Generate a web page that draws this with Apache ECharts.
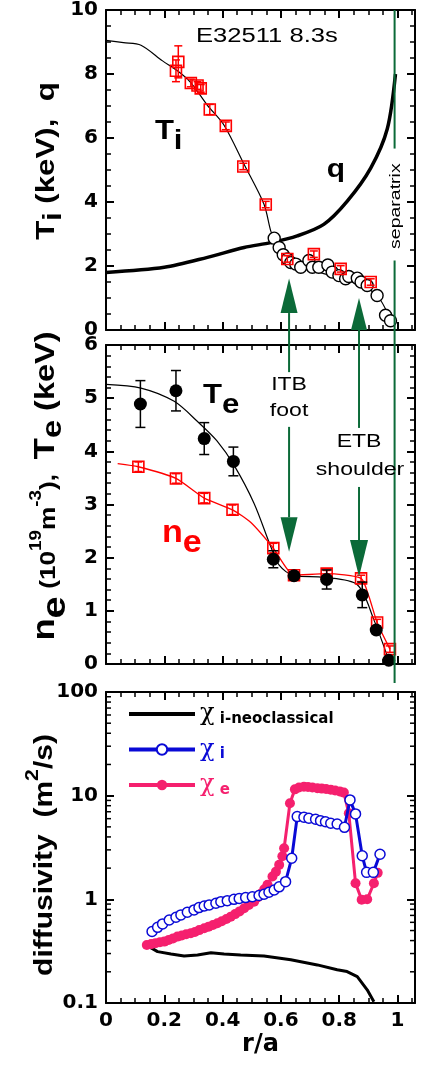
<!DOCTYPE html>
<html><head><meta charset="utf-8">
<script src="https://cdn.jsdelivr.net/npm/echarts@6/dist/echarts.min.js"></script>
<style>html,body{margin:0;padding:0;background:#fff}#c{width:426px;height:1068px}</style>
</head><body><div id="c"></div>
<script>
// ---------- Panel 1: Ti, q ----------
const tiFitX = [0, 0.06, 0.12, 0.194, 0.245, 0.29, 0.348, 0.405, 0.474, 0.542, 0.565, 0.577, 0.608, 0.634, 0.70, 0.747, 0.80, 0.862, 0.90, 0.942, 0.976];
const tiFitY = [9.05, 8.98, 8.9, 8.41, 8.1, 7.74, 7.02, 6.4, 5.17, 3.93, 3.1, 2.87, 2.35, 2.07, 1.9, 1.76, 1.65, 1.44, 1.3, 0.93, 0.31];
const tiX = [0.240, 0.248, 0.291, 0.314, 0.325, 0.356, 0.411, 0.471, 0.548, 0.622, 0.713, 0.805, 0.908];
const tiY = [8.10, 8.38, 7.72, 7.64, 7.55, 6.89, 6.38, 5.11, 3.92, 2.22, 2.37, 1.91, 1.50];
const tiErr = [0.34, 0.50, 0.12, 0.12, 0.12, 0.16, 0.12, 0.10, 0.10, 0.10, 0.10, 0.10, 0.10];
const cxX = [0.577, 0.594, 0.608, 0.622, 0.634, 0.651, 0.668, 0.696, 0.708, 0.730, 0.761, 0.776, 0.799, 0.822, 0.833, 0.862, 0.875, 0.896, 0.930, 0.959, 0.976];
const cxY = [2.87, 2.58, 2.35, 2.22, 2.11, 2.06, 1.96, 2.17, 1.96, 1.96, 2.03, 1.81, 1.70, 1.60, 1.67, 1.62, 1.50, 1.39, 1.08, 0.46, 0.29];
const qX = [0, 0.2, 0.348, 0.474, 0.565, 0.656, 0.747, 0.827, 0.908, 0.965, 0.993];
const qY = [1.80, 1.96, 2.27, 2.58, 2.73, 2.94, 3.30, 4.02, 5.06, 6.29, 8.0];

// ---------- Panel 2: Te, ne ----------
const teX = [0.118, 0.240, 0.337, 0.437, 0.574, 0.645, 0.757, 0.879, 0.927, 0.970];
const teY = [4.89, 5.14, 4.24, 3.81, 1.97, 1.66, 1.59, 1.30, 0.64, 0.07];
const teErr = [0.44, 0.38, 0.30, 0.27, 0.16, 0.06, 0.18, 0.24, 0.05, 0.03];
const teFitX = [0, 0.12, 0.234, 0.314, 0.38, 0.439, 0.508, 0.565, 0.594, 0.645, 0.748, 0.862, 0.919, 0.970];
const teFitY = [5.26, 5.19, 4.94, 4.56, 4.2, 3.74, 3.02, 2.21, 1.86, 1.66, 1.63, 1.49, 0.83, 0.07];
const neX = [0.111, 0.240, 0.337, 0.434, 0.574, 0.645, 0.757, 0.875, 0.930, 0.974];
const neY = [3.71, 3.49, 3.12, 2.90, 2.18, 1.67, 1.70, 1.61, 0.78, 0.28];
const neErr = [0.09, 0.09, 0.09, 0.09, 0.09, 0.06, 0.06, 0.06, 0.06, 0.06];
const neLineX = [0.04, 0.111, 0.240, 0.337, 0.434, 0.497, 0.574, 0.645, 0.757, 0.875, 0.902, 0.930, 0.974];
const neLineY = [3.77, 3.71, 3.49, 3.12, 2.90, 2.66, 2.18, 1.67, 1.70, 1.61, 1.27, 0.78, 0.28];

// ---------- Panel 3: diffusivities ----------
const neoX = [0.137, 0.177, 0.223, 0.268, 0.314, 0.360, 0.405, 0.462, 0.542, 0.634, 0.725, 0.793, 0.827, 0.862, 0.896, 0.919];
const neoY = [0.363, 0.313, 0.297, 0.284, 0.291, 0.306, 0.297, 0.291, 0.284, 0.261, 0.233, 0.209, 0.201, 0.180, 0.134, 0.103];
const chiIX = [0.158, 0.177, 0.194, 0.217, 0.240, 0.257, 0.279, 0.302, 0.319, 0.337, 0.354, 0.377, 0.394, 0.416, 0.439, 0.457, 0.479, 0.502, 0.525, 0.542, 0.559, 0.577, 0.594, 0.616, 0.637, 0.656, 0.679, 0.696, 0.719, 0.736, 0.753, 0.771, 0.793, 0.818, 0.837, 0.856, 0.879, 0.894, 0.917, 0.940];
const chiIY = [0.489, 0.537, 0.579, 0.632, 0.671, 0.708, 0.751, 0.791, 0.832, 0.863, 0.883, 0.916, 0.950, 0.971, 1.00, 1.02, 1.04, 1.06, 1.09, 1.12, 1.17, 1.23, 1.32, 1.48, 2.49, 6.28, 6.20, 6.05, 5.92, 5.74, 5.61, 5.42, 5.33, 4.95, 9.10, 6.67, 2.63, 1.82, 1.82, 2.72];
const chiEX = [0.140, 0.155, 0.170, 0.185, 0.200, 0.215, 0.230, 0.245, 0.260, 0.275, 0.291, 0.305, 0.320, 0.337, 0.352, 0.367, 0.382, 0.397, 0.413, 0.428, 0.443, 0.458, 0.474, 0.490, 0.508, 0.520, 0.531, 0.543, 0.554, 0.571, 0.583, 0.594, 0.605, 0.611, 0.631, 0.648, 0.662, 0.679, 0.693, 0.708, 0.725, 0.740, 0.755, 0.771, 0.786, 0.802, 0.816, 0.833, 0.856, 0.877, 0.896, 0.919, 0.932];
const chiEY = [0.363, 0.370, 0.378, 0.385, 0.391, 0.405, 0.420, 0.437, 0.447, 0.460, 0.471, 0.485, 0.505, 0.526, 0.545, 0.565, 0.588, 0.615, 0.645, 0.681, 0.720, 0.765, 0.820, 0.880, 0.950, 1.04, 1.13, 1.25, 1.38, 1.66, 1.85, 2.15, 2.60, 3.11, 8.45, 11.5, 12.0, 12.2, 12.1, 12.0, 11.8, 11.7, 11.6, 11.4, 11.2, 11.0, 10.7, 6.76, 1.43, 0.99, 1.00, 1.43, 1.80];

// ---------- Annotation positions (data units) ----------
const itbX = 0.628, etbX = 0.868, sepX = 0.99;

const zip = (xs, ys) => xs.map((x, i) => [x, ys[i]]);
const errRows = (xs, ys, es) => xs.map((x, i) => [x, ys[i], ys[i] - es[i], ys[i] + es[i]]);

const BLACK = '#000', RED = '#ff0000', BLUE = '#0a0ad6', PINK = '#f5206e', GREEN = '#0b6a38';
const TICKFONT = {fontFamily: 'DejaVu Sans', fontWeight: 'bold', fontSize: 20, color: '#000'};

function xAx(gi, pos, showLabel) {
  return {
    type: 'value', gridIndex: gi, position: pos, min: 0, max: 1.06, interval: 0.2,
    axisLine: {onZero: false, lineStyle: {color: BLACK, width: 2}},
    axisTick: {inside: true, length: 8, lineStyle: {color: BLACK, width: 2}},
    minorTick: {show: true, splitNumber: 4, length: 5, lineStyle: {color: BLACK, width: 1.5}},
    splitLine: {show: false},
    axisLabel: Object.assign({show: showLabel, showMaxLabel: false, margin: 8,
      formatter: v => (v === 0 || v === 1) ? String(v) : v.toFixed(1)}, TICKFONT),
    name: showLabel && pos === 'bottom' ? 'r/a' : '',
    nameLocation: 'middle', nameGap: 30,
    nameTextStyle: {fontFamily: 'DejaVu Sans', fontWeight: 'bold', fontSize: 24, color: '#000'}
  };
}
function yLin(gi, pos, showLabel, max, interval, split) {
  return {
    type: 'value', gridIndex: gi, position: pos, min: 0, max: max, interval: interval,
    axisLine: {show: true, onZero: false, lineStyle: {color: BLACK, width: 2}},
    axisTick: {show: true, inside: true, length: 8, lineStyle: {color: BLACK, width: 2}},
    minorTick: {show: true, splitNumber: split, length: 5, lineStyle: {color: BLACK, width: 1.5}},
    splitLine: {show: false},
    axisLabel: Object.assign({show: showLabel, margin: 8}, TICKFONT)
  };
}
function yLog(gi, pos, showLabel) {
  return {
    type: 'log', logBase: 10, gridIndex: gi, position: pos, min: 0.1, max: 100, splitNumber: 3,
    axisLine: {show: true, onZero: false, lineStyle: {color: BLACK, width: 2}},
    axisTick: {show: true, inside: true, length: 8, lineStyle: {color: BLACK, width: 2}},
    splitLine: {show: false},
    axisLabel: Object.assign({show: showLabel, margin: 8,
      formatter: v => v < 1 ? '0.1' : String(Math.round(v))}, TICKFONT)
  };
}
function errSeries(xi, yi, rows, color, cap, z) {
  return {
    type: 'custom', xAxisIndex: xi, yAxisIndex: yi, data: rows, silent: true, z: z,
    encode: {x: 0, y: 1},
    renderItem: (p, api) => {
      const x = api.value(0);
      const a = api.coord([x, api.value(2)]), b = api.coord([x, api.value(3)]);
      const s = {stroke: color, lineWidth: 1.5, fill: null};
      return {type: 'group', children: [
        {type: 'line', shape: {x1: a[0], y1: a[1], x2: b[0], y2: b[1]}, style: s},
        {type: 'line', shape: {x1: a[0] - cap, y1: a[1], x2: a[0] + cap, y2: a[1]}, style: s},
        {type: 'line', shape: {x1: b[0] - cap, y1: b[1], x2: b[0] + cap, y2: b[1]}, style: s}
      ]};
    }
  };
}
// log-axis minor ticks at 2..9 x decade
const minorLog = [];
[0.1, 1, 10].forEach(d => { for (let k = 2; k <= 9; k++) minorLog.push([0, +(k * d).toPrecision(3)]); });

const option = {
  animation: false,
  backgroundColor: '#fff',
  grid: [
    {left: 106, top: 7, width: 309, height: 323},
    {left: 106, top: 345, width: 309, height: 319},
    {left: 106, top: 692, width: 309, height: 311}
  ],
  xAxis: [xAx(0, 'bottom', false), xAx(1, 'bottom', false), xAx(2, 'bottom', true),
          xAx(0, 'top', false), xAx(1, 'top', false), xAx(2, 'top', false)],
  yAxis: [yLin(0, 'left', true, 10, 2, 4), yLin(1, 'left', true, 6, 1, 5), yLog(2, 'left', true),
          yLin(0, 'right', false, 10, 2, 4), yLin(1, 'right', false, 6, 1, 5), yLog(2, 'right', false)],
  legend: {
    left: 122, top: 697, orient: 'vertical', itemWidth: 66, itemHeight: 13, itemGap: 11,
    lineStyle: {width: 4},
    data: [{name: 'χ i-neoclassical', icon: 'path://M0,0H66V4H0Z'}, {name: 'χ i'}, {name: 'χ e'}],
    formatter: n => n === 'χ i-neoclassical' ? '{ck|χ}{sk| i-neoclassical}' : (n === 'χ i' ? '{cb|χ}{sb| i}' : '{cp|χ}{sp| e}'),
    textStyle: {rich: {
      ck: {fontFamily: 'DejaVu Serif', fontSize: 24, color: BLACK},
      cb: {fontFamily: 'DejaVu Serif', fontSize: 24, color: BLUE},
      cp: {fontFamily: 'DejaVu Serif', fontSize: 24, color: PINK},
      sk: {fontFamily: 'DejaVu Sans', fontWeight: 'bold', fontSize: 15, color: BLACK, padding: [10, 0, 0, 0]},
      sb: {fontFamily: 'DejaVu Sans', fontWeight: 'bold', fontSize: 15, color: BLUE, padding: [10, 0, 0, 0]},
      sp: {fontFamily: 'DejaVu Sans', fontWeight: 'bold', fontSize: 15, color: PINK, padding: [10, 0, 0, 0]}
    }}
  },
  series: [
    // panel 1
    {name: 'q', type: 'line', xAxisIndex: 0, yAxisIndex: 0, data: zip(qX, qY), smooth: 0.3,
     showSymbol: false, symbol: 'none', lineStyle: {color: BLACK, width: 3.5}, z: 2},
    {name: 'Ti fit', type: 'line', xAxisIndex: 0, yAxisIndex: 0, data: zip(tiFitX, tiFitY), smooth: 0.3,
     showSymbol: false, symbol: 'none', lineStyle: {color: BLACK, width: 1.2}, z: 3},
    {name: 'Ti CXRS', type: 'scatter', xAxisIndex: 0, yAxisIndex: 0, data: zip(cxX, cxY),
     symbol: 'circle', symbolSize: 12, itemStyle: {color: '#fff', borderColor: BLACK, borderWidth: 1.4, opacity: 1}, z: 4},
    errSeries(0, 0, errRows(tiX, tiY, tiErr), RED, 4, 5),
    {name: 'Ti', type: 'scatter', xAxisIndex: 0, yAxisIndex: 0, data: zip(tiX, tiY),
     symbol: 'rect', symbolSize: 11, itemStyle: {color: 'rgba(0,0,0,0)', borderColor: RED, borderWidth: 1.6, opacity: 1}, z: 5},
    // panel 2
    {name: 'Te fit', type: 'line', xAxisIndex: 1, yAxisIndex: 1, data: zip(teFitX, teFitY), smooth: 0.3,
     showSymbol: false, symbol: 'none', lineStyle: {color: BLACK, width: 1.2}, z: 2},
    {name: 'ne fit', type: 'line', xAxisIndex: 1, yAxisIndex: 1, data: zip(neLineX, neLineY), smooth: 0.2,
     showSymbol: false, symbol: 'none', lineStyle: {color: RED, width: 1.3}, z: 2},
    errSeries(1, 1, errRows(neX, neY, neErr), RED, 4, 3),
    {name: 'ne', type: 'scatter', xAxisIndex: 1, yAxisIndex: 1, data: zip(neX, neY),
     symbol: 'rect', symbolSize: 11, itemStyle: {color: 'rgba(0,0,0,0)', borderColor: RED, borderWidth: 1.6, opacity: 1}, z: 3},
    errSeries(1, 1, errRows(teX, teY, teErr), BLACK, 5, 4),
    {name: 'Te', type: 'scatter', xAxisIndex: 1, yAxisIndex: 1, data: zip(teX, teY),
     symbol: 'circle', symbolSize: 13, itemStyle: {color: BLACK, opacity: 1}, z: 5},
    // panel 3
    {name: 'χ i-neoclassical', type: 'line', xAxisIndex: 2, yAxisIndex: 2, data: zip(neoX, neoY),
     showSymbol: false, symbol: 'none', lineStyle: {color: BLACK, width: 3}, itemStyle: {color: BLACK}, z: 2},
    {name: 'χ e', type: 'line', xAxisIndex: 2, yAxisIndex: 2, data: zip(chiEX, chiEY),
     symbol: 'circle', symbolSize: 10, lineStyle: {color: PINK, width: 3},
     itemStyle: {color: PINK, borderColor: PINK, borderWidth: 0}, z: 3},
    {name: 'χ i', type: 'line', xAxisIndex: 2, yAxisIndex: 2, data: zip(chiIX, chiIY),
     symbol: 'circle', symbolSize: 10, lineStyle: {color: BLUE, width: 3},
     itemStyle: {color: '#fff', borderColor: BLUE, borderWidth: 1.5}, z: 4},
    {type: 'custom', xAxisIndex: 2, yAxisIndex: 2, data: minorLog, silent: true, z: 10, encode: {x: 0, y: 1},
     renderItem: (p, api) => {
       const a = api.coord([0, api.value(1)]), b = api.coord([1.06, api.value(1)]);
       const s = {stroke: BLACK, lineWidth: 1.5};
       return {type: 'group', children: [
         {type: 'line', shape: {x1: a[0], y1: a[1], x2: a[0] + 5, y2: a[1]}, style: s},
         {type: 'line', shape: {x1: b[0] - 5, y1: b[1], x2: b[0], y2: b[1]}, style: s}
       ]};
     }}
  ]
};

const chart = echarts.init(document.getElementById('c'));
chart.setOption(option);

// ---------- Annotations (positioned through axis conversion) ----------
const PX = v => chart.convertToPixel({xAxisIndex: 0}, v);
const Y0 = v => chart.convertToPixel({yAxisIndex: 0}, v);
const Y1 = v => chart.convertToPixel({yAxisIndex: 1}, v);
const gline = (x, y1, y2) => ({type: 'line', shape: {x1: x, y1: y1, x2: x, y2: y2}, style: {stroke: GREEN, lineWidth: 2}, z: 20});
const garrow = (x, tip, base, hw) => ({type: 'polygon', shape: {points: [[x, tip], [x - hw, base], [x + hw, base]]}, style: {fill: GREEN}, z: 20});
const gtext = (x, y, text, size, extra) => Object.assign({type: 'text', x: x, y: y, scaleX: 1.28, z: 21,
  style: {text: text, fontFamily: 'Liberation Sans', fontSize: size, fill: '#000', align: 'center', verticalAlign: 'middle'}}, extra || {});

const xi = PX(itbX), xe = PX(etbX), xs = PX(sepX);
const bigRich = (color, sz) => ({
  m: {fontFamily: 'Liberation Sans', fontWeight: 'bold', fontSize: sz, lineHeight: sz, fill: color, verticalAlign: 'top'},
  s: {fontFamily: 'Liberation Sans', fontWeight: 'bold', fontSize: sz, lineHeight: sz, fill: color, padding: [10, 0, 0, 0], verticalAlign: 'top'}
});
const tok = (sz, pad) => ({fontFamily: 'Liberation Sans', fontWeight: 'bold', fontSize: sz, lineHeight: sz, fill: '#000', padding: [pad, 0, 0, 0], verticalAlign: 'top'});
const title1Rich = {b: tok(25, 6), sb: tok(24, 14)};
const title2Rich = {n: tok(29, 6), ne: tok(32, 14), b: tok(21, 13), sp: tok(15, 4), T: tok(28, 7), te: tok(26, 15), k: tok(26, 8)};
const title3Rich = {b: tok(24, 8), sp: tok(17, 0)};
const graphics = [
  // separatrix
  gline(xs, Y0(10), Y0(5.67)), gline(xs, Y0(2.17), Y1(0) + 19),
  gtext(xs + 1, Y0(3.87), 'separatrix', 15, {rotation: Math.PI / 2, scaleX: 1.3}),
  // ITB foot
  garrow(xi, Y0(1.61), Y0(0.53), 8.5), gline(xi, Y0(0.53), Y1(5.49)),
  gtext(xi, Y1(5.25), 'ITB', 18), gtext(xi, Y1(4.76), 'foot', 18),
  gline(xi, Y1(4.46), Y1(2.76)), garrow(xi, Y1(2.11), Y1(2.76), 8.5),
  // ETB shoulder
  garrow(xe, Y0(1.0), Y0(0), 8), gline(xe, Y0(0), Y1(4.44)),
  gtext(xe, Y1(4.18), 'ETB', 18), gtext(xe + 1, Y1(3.65), 'shoulder', 18),
  gline(xe, Y1(3.33), Y1(2.33)), garrow(xe, Y1(1.64), Y1(2.33), 9),
  // panel labels
  gtext(PX(0.552), Y0(9.16), 'E32511 8.3s', 20),
  {type: 'text', x: PX(0.215), y: Y0(6.2), scaleX: 1.15, z: 21,
   style: {text: '{m|T}{s|i}', align: 'center', verticalAlign: 'middle', rich: bigRich('#000', 27)}},
  {type: 'text', x: PX(0.789), y: Y0(5.0), scaleX: 1.15, z: 21,
   style: {text: 'q', fontFamily: 'Liberation Sans', fontWeight: 'bold', fontSize: 26, fill: '#000', align: 'center', verticalAlign: 'middle'}},
  {type: 'text', x: PX(0.395), y: Y1(5.05), scaleX: 1.15, z: 21,
   style: {text: '{m|T}{s|e}', align: 'center', verticalAlign: 'middle', rich: bigRich('#000', 27)}},
  {type: 'text', x: PX(0.26), y: Y1(2.45), scaleX: 1.1, z: 21,
   style: {text: '{m|n}{s|e}', align: 'center', verticalAlign: 'middle', rich: bigRich(RED, 31)}},
  // axis titles (rotated)
  {type: 'text', x: 40, y: 161, rotation: Math.PI / 2, scaleX: 1.25, scaleY: 1.05, z: 21,
   style: {text: '{b|T}{sb|i}{b| (keV),  q}', align: 'center', verticalAlign: 'middle', rich: title1Rich}},
  {type: 'text', x: 41, y: 486, rotation: Math.PI / 2, scaleX: 1.25, scaleY: 1.05, z: 21,
   style: {text: '{n|n}{ne|e}{b| (10}{sp|19}{b|m}{sp|-3}{b|),  }{T|T}{te|e}{k| (keV)}', align: 'center', verticalAlign: 'middle', rich: title2Rich}},
  {type: 'text', x: 37, y: 855, rotation: Math.PI / 2, scaleX: 1.25, scaleY: 1.05, z: 21,
   style: {text: '{b|diffusivity  (m}{sp|2}{b|/s)}', align: 'center', verticalAlign: 'middle', rich: title3Rich}}
];
chart.setOption({graphic: graphics});
</script></body></html>
